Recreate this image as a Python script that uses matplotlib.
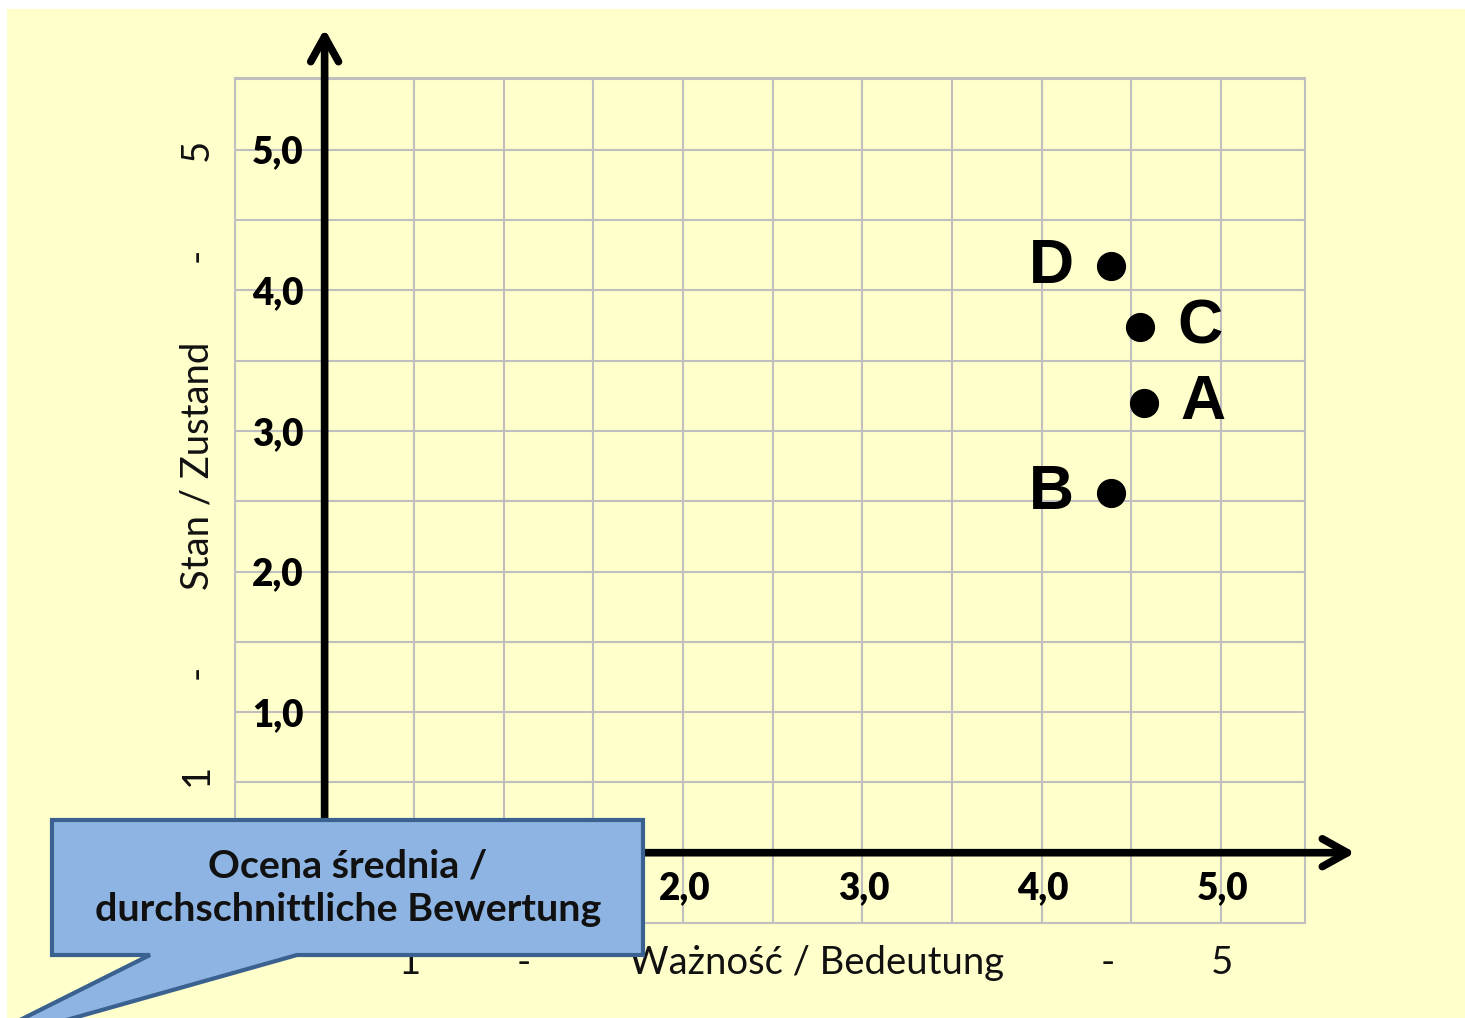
import matplotlib.pyplot as plt
from matplotlib.patches import Polygon, Rectangle
from matplotlib.ticker import MultipleLocator

# data
names = ['A', 'B', 'C', 'D']
importance = [4.57, 4.39, 4.55, 4.39]   # Ważność / Bedeutung
condition = [3.20, 2.56, 3.74, 4.17]    # Stan / Zustand
label_side = {'A': 'right', 'B': 'left', 'C': 'right', 'D': 'left'}

tick_values = [1, 2, 3, 4, 5]
tick_labels = ['1,0', '2,0', '3,0', '4,0', '5,0']

W, H = 1465, 1018
YELLOW = '#FFFFCC'
GRID = '#BFBFBF'


def fx(px):
    return px / W


def fy(py):
    return 1 - py / H


fig = plt.figure(figsize=(W / 100, H / 100), dpi=100, facecolor='white')
fig.patches.append(Rectangle((fx(7), 0), 1 - fx(7), fy(9), transform=fig.transFigure,
                             facecolor=YELLOW, edgecolor='none', zorder=-1))

ax = fig.add_axes([fx(235), fy(923), fx(1305) - fx(235), fy(78) - fy(923)])
ax.set_facecolor('none')
ax.set_xlim(-0.5, 5.47)
ax.set_ylim(-0.5, 5.51)
ax.xaxis.set_major_locator(MultipleLocator(0.5))
ax.yaxis.set_major_locator(MultipleLocator(0.5))
ax.grid(True, color=GRID, lw=1.5)
ax.tick_params(length=0, labelbottom=False, labelleft=False)
for s in ax.spines.values():
    s.set_color(GRID)
    s.set_linewidth(1.5)

# axes arrows
arrow = dict(arrowstyle='->,head_length=0.9,head_width=0.5', lw=5.5, color='black',
             capstyle='round', joinstyle='round', mutation_scale=20, shrinkA=0, shrinkB=0)
ax.annotate('', xy=(0, 5.86), xytext=(0, -0.5), arrowprops=arrow, annotation_clip=False, zorder=3)
ax.annotate('', xy=(5.75, 0), xytext=(-0.5, 0), arrowprops=arrow, annotation_clip=False, zorder=3)

tick_font = dict(family=['Lato', 'DejaVu Sans'], fontweight='heavy', fontsize=26.5, color='black')
for v, lab in zip(tick_values, tick_labels):
    if v > 1:  # the 1,0 on the x axis sits under the callout
        ax.text(v + 0.01, -0.25, lab, ha='center', va='center', **tick_font)
    ax.text(-0.26, v - 0.02, lab, ha='center', va='center', **tick_font)

# points and letters
ax.scatter(importance, condition, s=400, color='black', zorder=4)
for n, xv, yv in zip(names, importance, condition):
    dx = 43 if label_side[n] == 'right' else -43
    ax.annotate(n, (xv, yv), xytext=(dx, 0), textcoords='offset points',
                ha='center', va='center', fontsize=45, fontweight='bold',
                family='Liberation Sans', zorder=4)

# outer axis titles
title_font = dict(family=['Lato', 'DejaVu Sans'], fontsize=27.5, color='#111111')
fig.text(fx(197), fy(466), 'Stan / Zustand', rotation=90, ha='center', va='center', **title_font)
for py, t in [(150, '5'), (255, '-'), (672, '-'), (775, '1')]:
    fig.text(fx(197), fy(py), t, rotation=90, ha='center', va='center', **title_font)
fig.text(fx(817), fy(963), 'Ważność / Bedeutung', ha='center', va='center', **title_font)
for px, t in [(410, '1'), (524, '-'), (1108, '-'), (1222, '5')]:
    fig.text(fx(px), fy(963), t, ha='center', va='center', **title_font)

# callout
pts = [(52, 820), (643, 820), (643, 955), (297, 955), (-40, 1050), (150, 955), (52, 955)]
fig.patches.append(Polygon([(fx(a), fy(b)) for a, b in pts], closed=True, transform=fig.transFigure,
                           facecolor='#8DB4E2', edgecolor='#3B6190', lw=3, zorder=5))
fig.text(fx(348), fy(888), 'Ocena średnia /\ndurchschnittliche Bewertung', ha='center', va='center',
         family=['Lato', 'DejaVu Sans'], fontweight='bold', fontsize=28.4, color='#111111',
         linespacing=1.3, zorder=6)

fig.savefig('out.png', dpi=100, facecolor=fig.get_facecolor())
